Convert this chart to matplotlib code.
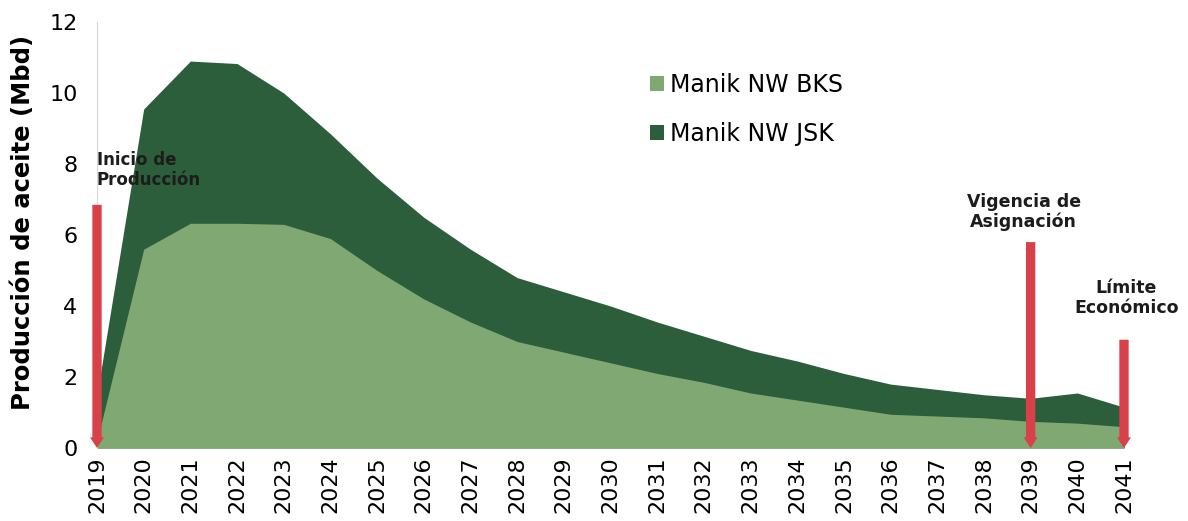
import matplotlib
matplotlib.use("Agg")
import matplotlib.pyplot as plt
import numpy as np

# Production profile, thousands of barrels per day
years = list(range(2019, 2042))
bks = [0.2, 5.6, 6.33, 6.33, 6.3, 5.9, 5.0, 4.2, 3.55, 3.0, 2.7, 2.4, 2.1,
       1.85, 1.55, 1.35, 1.15, 0.95, 0.9, 0.85, 0.75, 0.7, 0.6]
jsk = [1.3, 3.95, 4.57, 4.5, 3.7, 2.95, 2.6, 2.3, 2.05, 1.8, 1.7, 1.6, 1.45,
       1.3, 1.2, 1.1, 0.95, 0.85, 0.75, 0.65, 0.65, 0.85, 0.55]
series_names = ["Manik NW BKS", "Manik NW JSK"]

# Milestone markers: (year, arrow start, label)
milestones = [
    (2019, 6.85, "Inicio de\nProducción"),
    (2039, 5.8, "Vigencia de\nAsignación"),
    (2041, 3.05, "Límite\nEconómico"),
]

light = "#80a873"
dark = "#2c5e3b"
red = "#d8414a"

plt.rcParams["font.family"] = ["DejaVu Sans"]

fig = plt.figure(figsize=(11.88, 5.21), dpi=100)
W, H = 1188, 521
x0, x1 = 97, 1188
y0, y1 = 448, 22
ax = fig.add_axes([x0 / W, 1 - y0 / H, (x1 - x0) / W, (y0 - y1) / H])
px_per_year = (1124 - 97) / 22
ax.set_xlim(2019, 2019 + (x1 - x0) / px_per_year)
ax.set_ylim(0, 12)

yrs = np.array(years)
b = np.array(bks)
total = b + np.array(jsk)
ax.fill_between(yrs, 0, total, color=dark, lw=0, label=series_names[1], zorder=1)
ax.fill_between(yrs, 0, b, color=light, lw=0, label=series_names[0], zorder=2)

for yr, top, label in milestones:
    ax.arrow(yr, top, 0, -top, width=0.2, head_width=0.3, head_length=0.3,
             length_includes_head=True, color=red, lw=0, zorder=4,
             clip_on=False)

txt = dict(fontweight="bold", color="#1c1c1c", linespacing=1.15, zorder=5,
           clip_on=False)
ax.text(2019, 7.3, milestones[0][2], ha="left", va="bottom", fontsize=12, **txt)
ax.text(2038.85, 6.1, milestones[1][2], ha="center", va="bottom", fontsize=12.5,
        **txt)
ax.text(2041.05, 3.7, milestones[2][2], ha="center", va="bottom", fontsize=12.5,
        **txt)

for s in ["top", "right", "bottom"]:
    ax.spines[s].set_visible(False)
ax.spines["left"].set_color("#d8d8d8")
ax.spines["left"].set_linewidth(0.8)

ax.set_yticks(range(0, 13, 2))
ax.set_yticklabels([str(v) for v in range(0, 13, 2)], fontsize=16)
ax.set_xticks(years)
ax.set_xticklabels([str(y) for y in years], rotation=90, fontsize=16)
ax.tick_params(axis="y", length=0, pad=14)
ax.tick_params(axis="x", length=0, pad=6)

ax.set_ylabel("Producción de aceite (Mbd)", fontsize=17.5, fontweight="bold")
ax.yaxis.set_label_coords(-0.057, 0.53)

handles, labels = ax.get_legend_handles_labels()
leg = ax.legend(handles[::-1], labels[::-1], loc="upper left",
                bbox_to_anchor=(0.498, 0.903), frameon=False, fontsize=17,
                handlelength=0.6, handleheight=0.6, handletextpad=0.25,
                labelspacing=1.05, borderaxespad=0)

fig.savefig("out.png", dpi=100, facecolor="white")
